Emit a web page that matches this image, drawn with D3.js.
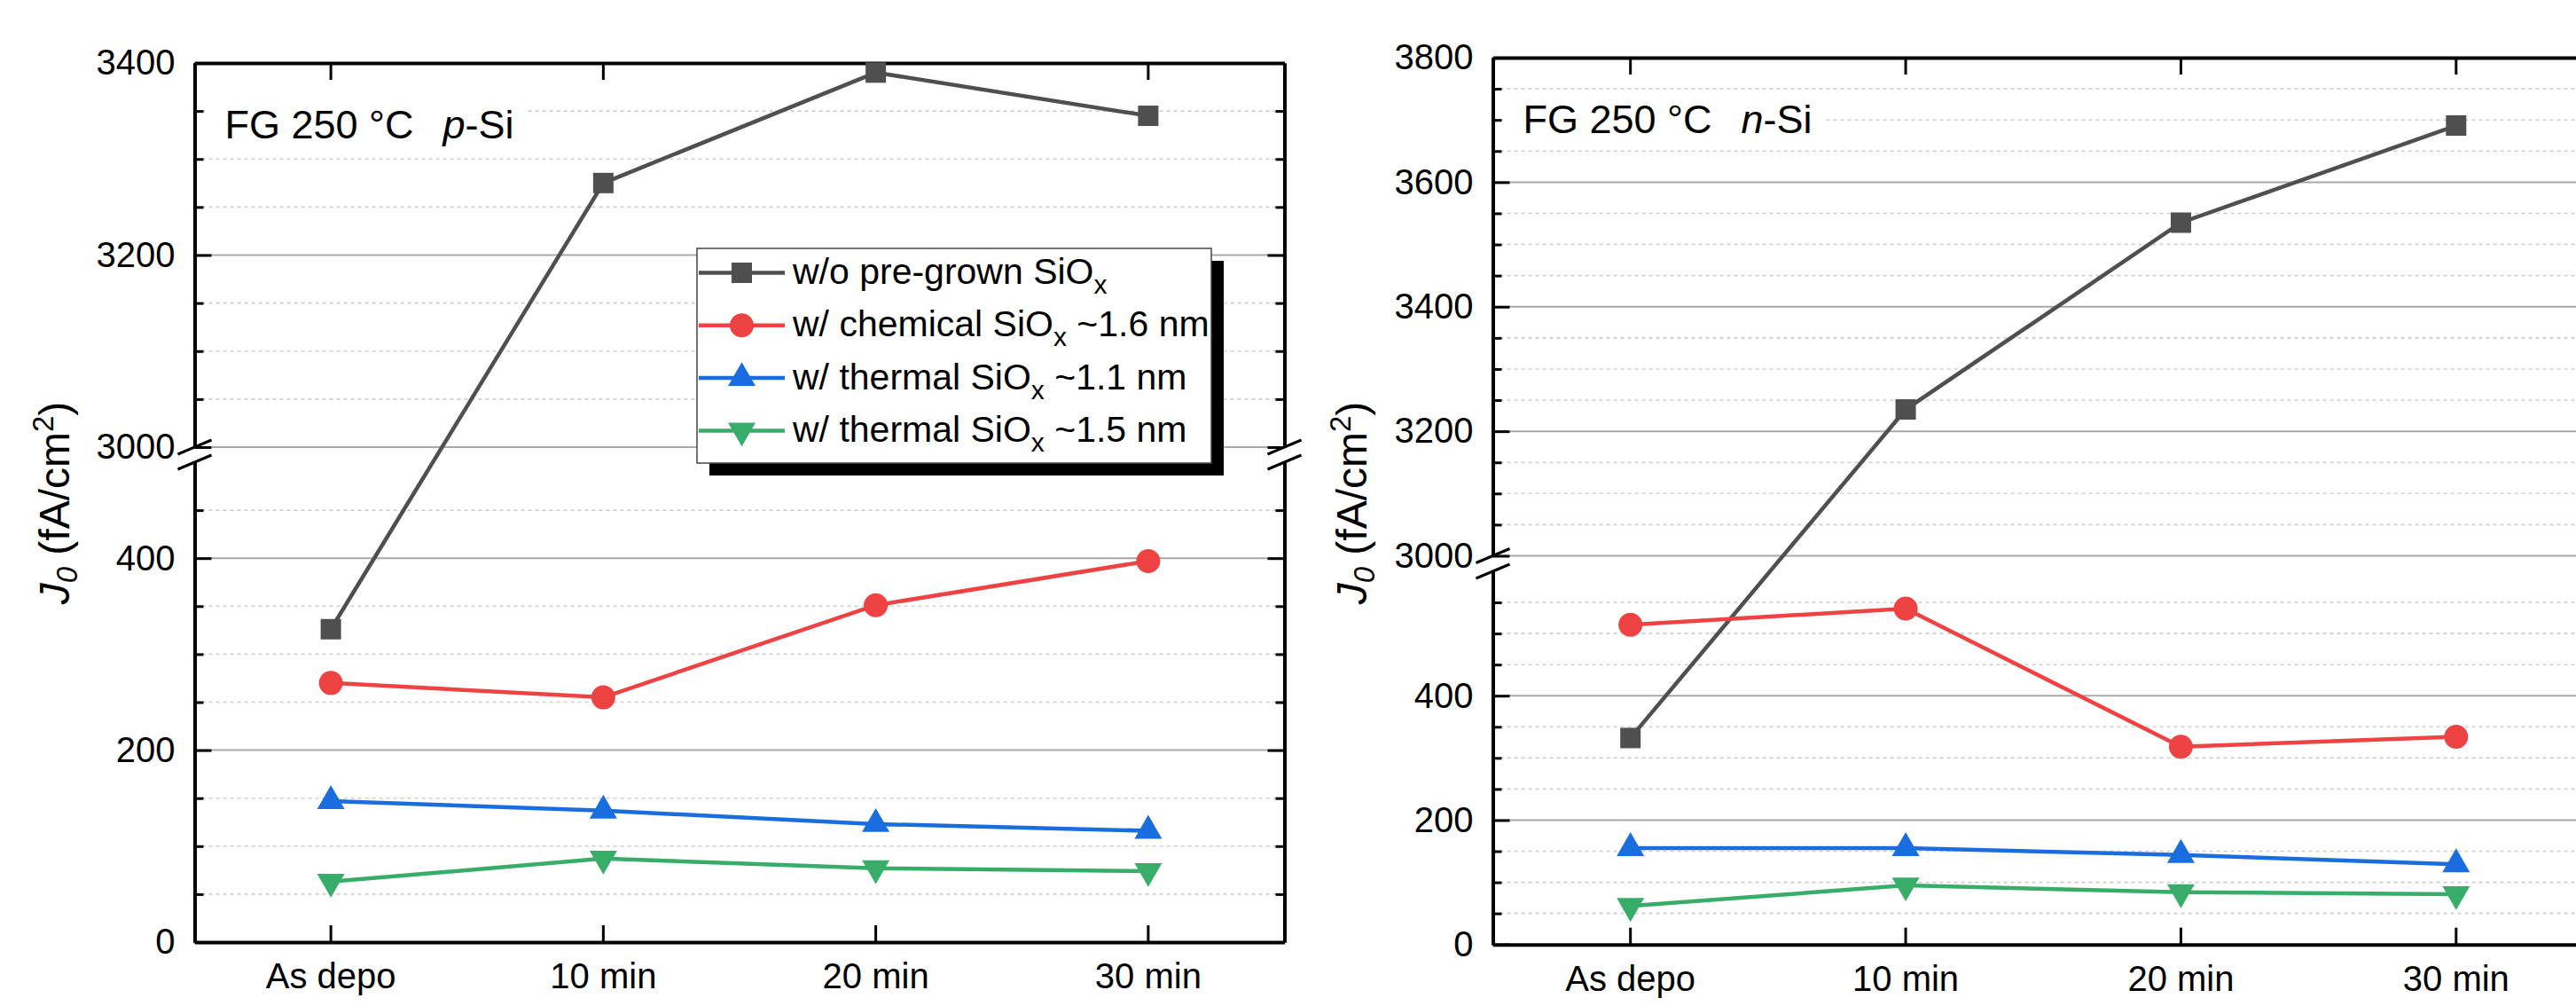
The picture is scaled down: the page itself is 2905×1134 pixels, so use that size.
<!DOCTYPE html>
<html>
<head>
<meta charset="utf-8">
<script src="https://cdn.jsdelivr.net/npm/d3@7.9.0/dist/d3.min.js"></script>
<style>
  body { margin: 0; background: #fff; }
  text { font-family: "Liberation Sans", Arial, sans-serif; }
</style>
</head>
<body>
<svg id="chart" width="2905" height="1134"></svg>
<script>
// categories on the x axis
const categories = ['As depo', '10 min', '20 min', '30 min'];

// legend labels (SiO + subscript x + suffix)
const seriesNames = ['w/o pre-grown SiO', 'w/ chemical SiO', 'w/ thermal SiO', 'w/ thermal SiO'];
const seriesSuffix = ['', ' ~1.6 nm', ' ~1.1 nm', ' ~1.5 nm'];
const seriesColors = ['#4f4f4f', '#ef4242', '#1a6ddf', '#37ad69'];
const seriesShapes = ['square', 'circle', 'triangle', 'triangleDown'];

// p-Si panel values, fA/cm2
const pSiNoOxide = [326, 3275, 3390, 3345];
const pSiChemical = [270, 255, 351, 397];
const pSiThermal11 = [147, 137, 123, 116];
const pSiThermal15 = [63, 87, 77, 74];

// n-Si panel values, fA/cm2
const nSiNoOxide = [332, 3235, 3535, 3691];
const nSiChemical = [514, 540, 318, 334];
const nSiThermal11 = [155, 155, 144, 129];
const nSiThermal15 = [62, 95, 84, 81];

// broken y axis: lower and upper parts, labelled ticks
const pSiLower = [0, 500];
const pSiUpper = [3000, 3400];
const pSiLowerTicks = [0, 200, 400];
const pSiUpperTicks = [3000, 3200, 3400];

const nSiLower = [0, 600];
const nSiUpper = [3000, 3800];
const nSiLowerTicks = [0, 200, 400];
const nSiUpperTicks = [3000, 3200, 3400, 3600, 3800];

const svg = d3.select('#chart');
const FONT = '"Liberation Sans", Arial, sans-serif';

function symbolFor(shape) {
    if (shape === 'square') return d3.symbol(d3.symbolSquare, 23 * 23)();
    if (shape === 'circle') return d3.symbol(d3.symbolCircle, Math.PI * 13.5 * 13.5)();
    return d3.symbol(d3.symbolTriangle, 31 * 31 * Math.sqrt(3) / 4)();
}

function styleAxis(g) {
    g.attr('font-size', 40).attr('font-family', FONT);
    g.select('.domain').attr('stroke', '#000').attr('stroke-width', 4);
    g.selectAll('.tick line').attr('stroke', '#000').attr('stroke-width', 3);
    g.selectAll('.tick text').attr('fill', '#000');
}

function drawPanel(p) {
    const g = svg.append('g');

    const x = d3.scaleBand().domain(categories).range([p.x0, p.x1]);
    const cx = c => x(c) + x.bandwidth() / 2;
    const yLow = d3.scaleLinear().domain(p.lower).range([p.bottom, p.lowTop]);
    const yHigh = d3.scaleLinear().domain(p.upper).range([p.highBottom, p.top]);
    const y = v => (v >= p.upper[0] ? yHigh(v) : yLow(v));

    const lowMinor = yLow.ticks((p.lower[1] - p.lower[0]) / 50)
        .filter(v => !p.lowerTicks.includes(v) && v < p.lower[1]);
    const highMinor = yHigh.ticks((p.upper[1] - p.upper[0]) / 50)
        .filter(v => !p.upperTicks.includes(v));

    // grid lines
    const grid = g.append('g');
    const minorY = lowMinor.map(yLow).concat(highMinor.map(yHigh));
    const majorY = p.lowerTicks.filter(v => v > p.lower[0]).map(yLow)
        .concat(p.upperTicks.filter(v => v < p.upper[1]).map(yHigh));
    grid.selectAll('line.minor').data(minorY).join('line')
        .attr('x1', p.x0).attr('x2', p.x1).attr('y1', d => d).attr('y2', d => d)
        .attr('stroke', '#cfcfcf').attr('stroke-width', 1.6).attr('stroke-dasharray', '4 4');
    grid.selectAll('line.major').data(majorY).join('line')
        .attr('x1', p.x0).attr('x2', p.x1).attr('y1', d => d).attr('y2', d => d)
        .attr('stroke', '#a9a9a9').attr('stroke-width', 2);

    // panel label with white background
    const note = g.append('text')
        .attr('x', p.x0 + 34).attr('y', p.top + 85)
        .attr('font-size', 45).style('white-space', 'pre');
    note.append('tspan').text('FG 250 \u00B0C  ');
    note.append('tspan').attr('font-style', 'italic').attr('dx', 8).text(p.dopant);
    note.append('tspan').text('-Si');
    const nb = note.node().getBBox();
    g.insert('rect', 'text')
        .attr('x', p.x0 + 12).attr('y', nb.y - 4)
        .attr('width', nb.x + nb.width + 12 - (p.x0 + 12)).attr('height', nb.height + 6)
        .attr('fill', '#fff');

    // axes, lower and upper parts
    const axes = g.append('g');
    const fmt = d3.format('d');
    [[yLow, p.lowerTicks, lowMinor], [yHigh, p.upperTicks, highMinor]].forEach(([sc, major, minor]) => {
        axes.append('g').attr('transform', `translate(${p.x0},0)`)
            .call(d3.axisLeft(sc).tickValues(major).tickFormat(fmt).tickSize(-19).tickSizeOuter(0).tickPadding(22))
            .call(styleAxis);
        axes.append('g').attr('transform', `translate(${p.x0},0)`)
            .call(d3.axisLeft(sc).tickValues(minor).tickSize(-10).tickSizeOuter(0).tickFormat(''))
            .call(styleAxis);
        axes.append('g').attr('transform', `translate(${p.x1},0)`)
            .call(d3.axisRight(sc).tickValues(major).tickSize(-19).tickSizeOuter(0).tickFormat(''))
            .call(styleAxis);
        axes.append('g').attr('transform', `translate(${p.x1},0)`)
            .call(d3.axisRight(sc).tickValues(minor).tickSize(-10).tickSizeOuter(0).tickFormat(''))
            .call(styleAxis);
    });
    axes.append('g').attr('transform', `translate(0,${p.bottom})`)
        .call(d3.axisBottom(x).tickSize(-19).tickSizeOuter(0).tickPadding(24))
        .call(styleAxis);
    axes.append('g').attr('transform', `translate(0,${p.top})`)
        .call(d3.axisTop(x).tickSize(-19).tickSizeOuter(0).tickFormat(''))
        .call(styleAxis);

    // break marks
    [p.x0, p.x1].forEach(ax => {
        [yHigh(p.upper[0]), yLow(p.lower[1])].forEach(by => {
            axes.append('line')
                .attr('x1', ax - 19).attr('y1', by + 8).attr('x2', ax + 19).attr('y2', by - 8)
                .attr('stroke', '#000').attr('stroke-width', 3);
        });
    });

    // y label
    const yl = g.append('text')
        .attr('transform', `translate(${p.labelX},${p.labelY}) rotate(-90)`)
        .attr('text-anchor', 'middle').attr('font-size', 48);
    yl.append('tspan').attr('font-style', 'italic').text('J');
    yl.append('tspan').attr('font-style', 'italic').attr('font-size', 33).attr('dy', 9).text('0');
    yl.append('tspan').attr('dy', -9).text(' (fA/cm');
    yl.append('tspan').attr('font-size', 33).attr('dy', -18).text('2');
    yl.append('tspan').attr('dy', 18).text(')');

    // series
    p.series.forEach((vals, i) => {
        const pts = categories.map((c, j) => ({ c, v: vals[j] }));
        g.append('path').datum(pts)
            .attr('d', d3.line().x(d => cx(d.c)).y(d => y(d.v)))
            .attr('fill', 'none').attr('stroke', seriesColors[i]).attr('stroke-width', 4.5);
        g.selectAll(null).data(pts).join('path')
            .attr('d', symbolFor(seriesShapes[i]))
            .attr('transform', d => `translate(${cx(d.c)},${y(d.v)})` +
                (seriesShapes[i] === 'triangleDown' ? ' rotate(180)' : ''))
            .attr('fill', seriesColors[i]);
    });
}

drawPanel({
    x0: 219.5, x1: 1448.5, top: 71, highBottom: 504, lowTop: 521, bottom: 1062,
    lower: pSiLower, upper: pSiUpper, lowerTicks: pSiLowerTicks, upperTicks: pSiUpperTicks,
    dopant: 'p', labelX: 78, labelY: 567,
    series: [pSiNoOxide, pSiChemical, pSiThermal11, pSiThermal15]
});

drawPanel({
    x0: 1683.5, x1: 2925, top: 65, highBottom: 626.5, lowTop: 644, bottom: 1064.7,
    lower: nSiLower, upper: nSiUpper, lowerTicks: nSiLowerTicks, upperTicks: nSiUpperTicks,
    dopant: 'n', labelX: 1541, labelY: 567,
    series: [nSiNoOxide, nSiChemical, nSiThermal11, nSiThermal15]
});

// legend in the p-Si panel
const legend = svg.append('g');
legend.append('rect').attr('x', 800).attr('y', 294).attr('width', 580).attr('height', 242).attr('fill', '#000');
legend.append('rect').attr('x', 786).attr('y', 280).attr('width', 580).attr('height', 242)
    .attr('fill', '#fff').attr('stroke', '#444').attr('stroke-width', 1.5);
seriesNames.forEach((name, i) => {
    const ry = 307.5 + i * 59.3;
    legend.append('line').attr('x1', 788).attr('x2', 885).attr('y1', ry).attr('y2', ry)
        .attr('stroke', seriesColors[i]).attr('stroke-width', 4.5);
    legend.append('path').attr('d', symbolFor(seriesShapes[i]))
        .attr('transform', `translate(836.5,${ry})` + (seriesShapes[i] === 'triangleDown' ? ' rotate(180)' : ''))
        .attr('fill', seriesColors[i]);
    const t = legend.append('text').attr('x', 894).attr('y', ry + 12.5).attr('font-size', 41)
        .style('white-space', 'pre');
    t.append('tspan').text(name);
    t.append('tspan').attr('font-size', 30).attr('dy', 11).text('x');
    if (seriesSuffix[i]) t.append('tspan').attr('dy', -11).text(seriesSuffix[i]);
});
</script>
</body>
</html>
